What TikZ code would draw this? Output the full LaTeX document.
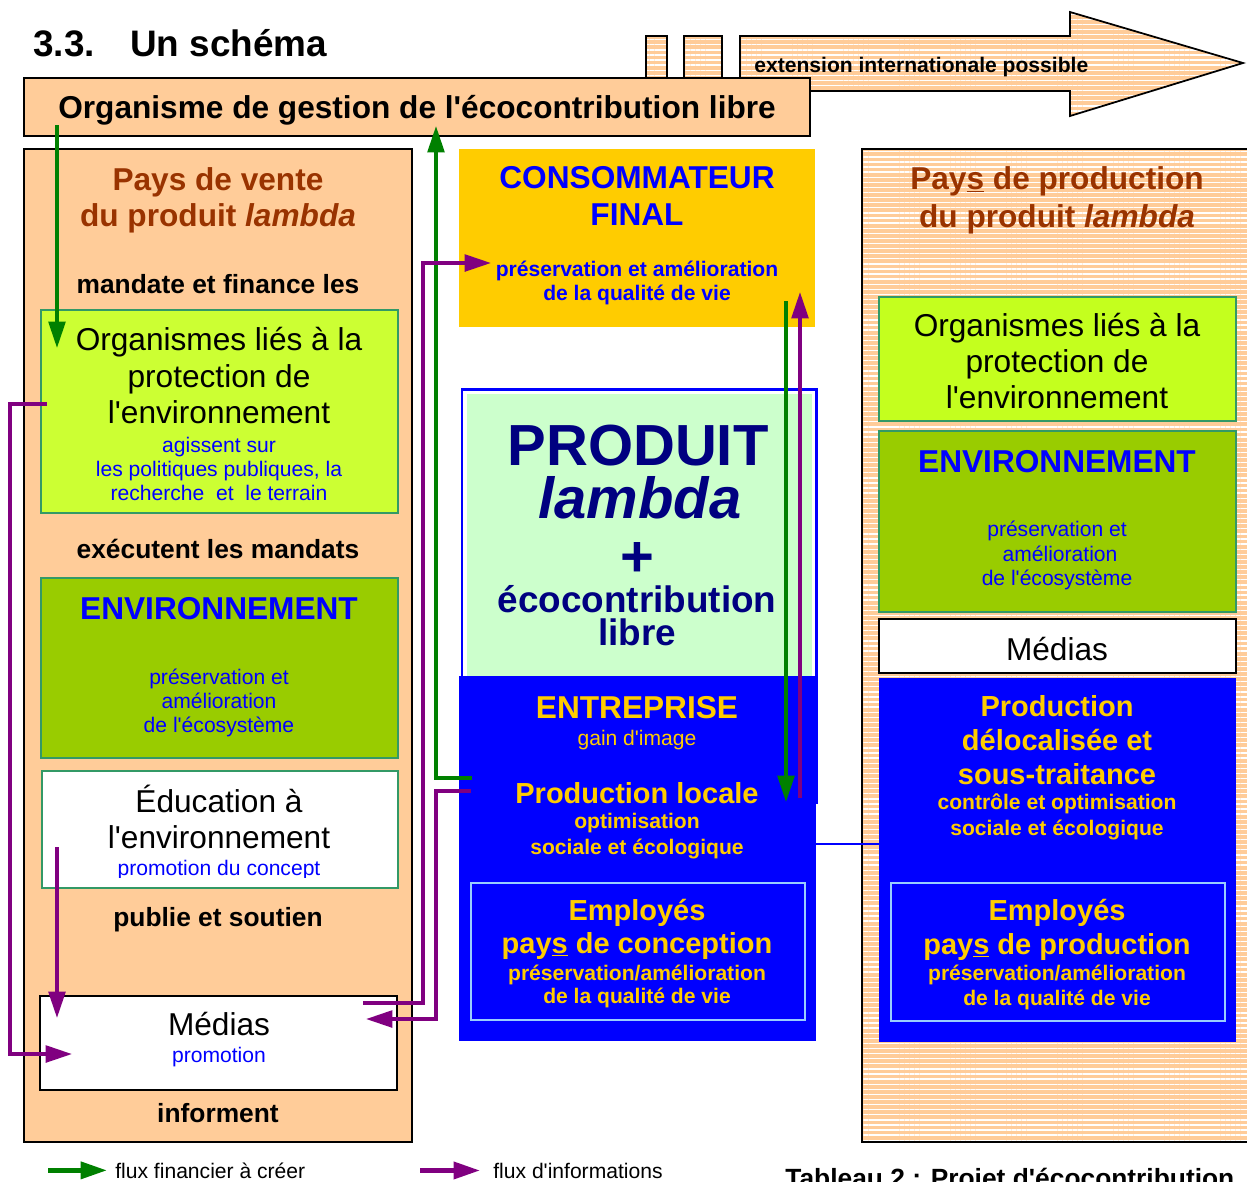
\documentclass[tikz,border=0pt]{standalone}
\usepackage{fontspec}
\setmainfont{Liberation Sans}[Ligatures=TeXOff]
\usetikzlibrary{arrows.meta,calc,fit,patterns.meta}

\definecolor{peach}{HTML}{FFCC99}
\definecolor{brun}{HTML}{993300}
\definecolor{limeA}{HTML}{CCFF33}
\definecolor{limeB}{HTML}{C4FF1E}
\definecolor{envgreen}{HTML}{99CC00}
\definecolor{edge}{HTML}{339966}
\definecolor{jaune}{HTML}{FFCC00}
\definecolor{menthe}{HTML}{CCFFCC}
\definecolor{marine}{HTML}{000080}
\definecolor{bleu}{HTML}{0000FF}
\definecolor{ciel}{HTML}{99CCFF}
\definecolor{vert}{HTML}{008000}
\definecolor{violet}{HTML}{800080}

\newdimen\px \px=0.02cm

\tikzset{
  txt/.style={anchor=base, inner sep=0pt},
  fT/.style={txt, anchor=base west, font=\fontsize{21}{25}\selectfont\bfseries},
  fA/.style={txt, font=\fontsize{18}{21}\selectfont},
  fAb/.style={txt, font=\fontsize{18}{21}\selectfont\bfseries},
  fB/.style={txt, font=\fontsize{16.5}{19}\selectfont\bfseries},
  fC/.style={txt, font=\fontsize{12}{14}\selectfont},
  fCb/.style={txt, font=\fontsize{12}{14}\selectfont\bfseries},
  fD/.style={txt, font=\fontsize{15}{18}\selectfont\bfseries},
  zone/.style={inner sep=0pt, outer sep=0pt},
  pale/.style={zone, draw=black, line width=1pt, fill=peach},
  striped/.style={zone, draw=black, line width=1pt, preaction={fill=peach},
    pattern={Lines[angle=0,distance=2.9pt,line width=0.75pt]}, pattern color=white},
  limebox/.style={zone, draw=edge, line width=1.1pt, fill=#1},
  envbox/.style={zone, draw=edge, line width=1.1pt, fill=envgreen},
  whitebox/.style={zone, draw=#1, line width=1.1pt, fill=white},
  bluebox/.style={zone, fill=bleu},
  empbox/.style={zone, draw=ciel, line width=1.6pt},
  money/.style={vert, line width=2pt, -{Triangle[length=15pt,width=9.5pt]}},
  info/.style={violet, line width=2pt, -{Triangle[length=15pt,width=9.5pt]}},
}

\begin{document}
\begin{tikzpicture}[x=0.02cm,y=-0.02cm]
\useasboundingbox (0,0) rectangle (1247,1181);
\clip (0,0) rectangle (1247,1181);

% titre
\node[fT] (num) at (33,56) {3.3.};
\node[fT] (titre) at (130,56) {Un schéma};

% fleche extension
\draw[striped] (646,36) rectangle (667,90);
\draw[striped] (684,36) rectangle (722,90);
\draw[striped] (740,36) -- (1070,36) -- (1070,12) -- (1243,63) -- (1070,116) -- (1070,91) -- (740,91) -- cycle;
\node[fCb, anchor=base west] (ext) at (754,72) {extension internationale possible};

% organisme
\node[pale, fit={(24,78) (810,136)}] (org) {};
\node[fAb] (orgt) at (417,118) {Organisme de gestion de l'écocontribution libre};

% pays de vente
\node[pale, fit={(24,149) (412,1142)}] (vente) {};
\node[fAb, brun] (pv1) at (218,190) {Pays de vente};
\node[fAb, brun] (pv2) at (218,226) {du produit \textit{lambda}};
\node[fD] (pv3) at (218,293) {mandate et finance les};

\node[limebox=limeA, fit={(41,310) (398,513)}] (limeL) {};
\node[fA] (ol1) at (219,350) {Organismes liés à la};
\node[fA] (ol2) at (219,387) {protection de};
\node[fA] (ol3) at (219,423) {l'environnement};
\node[fC, bleu] (ol4) at (219,452) {agissent sur};
\node[fC, bleu] (ol5) at (219,476) {les politiques publiques, la};
\node[fC, bleu] (ol6) at (219,500) {recherche\ \ et\ \ le terrain};

\node[fD] (pv4) at (218,558) {exécutent les mandats};

\node[envbox, fit={(41,578) (398,758)}] (envL) {};
\node[fAb, bleu] (el1) at (219,619) {ENVIRONNEMENT};
\node[fC, bleu] (el2) at (219,684) {préservation et};
\node[fC, bleu] (el3) at (219,708) {amélioration};
\node[fC, bleu] (el4) at (219,732) {de l'écosystème};

\node[whitebox=edge, fit={(42,771) (398,888)}] (eduL) {};
\node[fA] (ed1) at (219,812) {Éducation à};
\node[fA] (ed2) at (219,848) {l'environnement};
\begin{scope}
\clip (42,771) rectangle (398,877);
\node[fC, bleu] (ed3) at (219,875) {promotion du concept};
\end{scope}

\node[fD] (pv5) at (218,926) {publie et soutien};

\node[whitebox=black, fit={(40,996) (397,1090)}] (mediaL) {};
\node[fA] (ml1) at (219,1035) {Médias};
\node[fC, bleu] (ml2) at (219,1062) {promotion};

\node[fD] (pv6) at (218,1122) {informent};

% consommateur
\node[zone, fill=jaune, fit={(459,149) (815,327)}] (conso) {};
\node[fAb, bleu] (co1) at (637,188) {CONSOMMATEUR};
\node[fAb, bleu] (co2) at (637,225) {FINAL};
\node[fCb, bleu] (co3) at (637,276) {préservation et amélioration};
\node[fCb, bleu] (co4) at (637,300) {de la qualité de vie};

% produit
\node[zone, draw=bleu, line width=1.7pt, fill=white, fit={(462,389) (816,802)}] (prod) {};
\fill[menthe] (467,394) rectangle (812,676);
\node[txt, marine, font=\fontsize{33}{36}\selectfont\bfseries] (pr1) at (638,465) {PRODUIT};
\node[txt, marine, font=\fontsize{33}{36}\selectfont\bfseries\itshape] (pr2) at (640,518) {lambda};
\node[marine, inner sep=0pt, font=\fontsize{33}{36}\selectfont\bfseries] (pr3) at (637,559) {+};
\node[txt, marine, font=\fontsize{21}{24}\selectfont\bfseries] (pr4) at (637,612) {écocontribution};
\node[txt, marine, font=\fontsize{21}{24}\selectfont\bfseries] (pr5) at (637,645) {libre};

% entreprise
\node[bluebox, fit={(459,676) (816,1041)}] (ent) {};
\node[fAb, jaune] (en1) at (637,718) {ENTREPRISE};
\node[fC, jaune] (en2) at (637,745) {gain d'image};
\node[fB, jaune] (en3) at (637,803) {Production locale};
\node[fCb, jaune] (en4) at (637,828) {optimisation};
\node[fCb, jaune] (en5) at (637,854) {sociale et écologique};

\node[empbox, fit={(471,883) (805,1020)}] (empC) {};
\node[fB, jaune] (ec1) at (637,920) {Employés};
\node[fB, jaune] (ec2) at (637,953) {pay\underline{s} de conception};
\node[fCb, jaune] (ec3) at (637,980) {préservation/amélioration};
\node[fCb, jaune] (ec4) at (637,1003) {de la qualité de vie};

% pays de production
\node[striped, fit={(862,149) (1262,1142)}] (prodpays) {};
\node[fAb, brun] (pp1) at (1057,189) {Pay\underline{s} de production};
\node[fAb, brun] (pp2) at (1057,227) {du produit \textit{lambda}};

\node[limebox=limeB, fit={(879,297) (1236,421)}] (limeR) {};
\node[fA] (or1) at (1057,336) {Organismes liés à la};
\node[fA] (or2) at (1057,372) {protection de};
\node[fA] (or3) at (1057,408) {l'environnement};

\node[envbox, fit={(879,431) (1236,612)}] (envR) {};
\node[fAb, bleu] (er1) at (1057,472) {ENVIRONNEMENT};
\node[fC, bleu] (er2) at (1057,536) {préservation et};
\node[fC, bleu] (er3) at (1060,561) {amélioration};
\node[fC, bleu] (er4) at (1057,585) {de l'écosystème};

\node[whitebox=black, fit={(879,619) (1236,673)}] (mediaR) {};
\node[fA] (mr1) at (1057,660) {Médias};

\node[bluebox, fit={(879,678) (1236,1042)}] (prodR) {};
\node[fB, jaune] (dr1) at (1057,716) {Production};
\node[fB, jaune] (dr2) at (1057,750) {délocalisée et};
\node[fB, jaune] (dr3) at (1057,784) {sous-traitance};
\node[fCb, jaune] (dr4) at (1057,809) {contrôle et optimisation};
\node[fCb, jaune] (dr5) at (1057,835) {sociale et écologique};

\node[empbox, fit={(891,883) (1225,1021)}] (empR) {};
\node[fB, jaune] (erp1) at (1057,920) {Employés};
\node[fB, jaune] (erp2) at (1057,954) {pay\underline{s} de production};
\node[fCb, jaune] (erp3) at (1057,980) {préservation/amélioration};
\node[fCb, jaune] (erp4) at (1057,1005) {de la qualité de vie};

% flux financiers
\draw[money] ([yshift=11\px]org.south -| 57,0) -- ([yshift=-38\px]limeL.north -| 57,0);
\draw[money] ([xshift=13\px]ent.west |- 0,778) -| ([yshift=10\px]org.south -| 436,0);
\draw[money] ([yshift=26\px]conso.south -| 786,0) -- (prod.south -| 786,0);

% flux d'informations
\draw[info] ([xshift=6\px]limeL.west |- 0,404) -- ++(-37,0) |- ([xshift=32\px]mediaL.west |- 0,1054);
\draw[info] ([yshift=41\px]eduL.south -| 57,0) -- ([yshift=-22\px]mediaL.north -| 57,0);
\draw[info] ([xshift=-34\px]mediaL.east |- 0,1003) -- ++(60,0) |- ([xshift=32\px]conso.west |- 0,263);
\draw[info] ([xshift=12\px]ent.west |- 0,791) -- ++(-35,0) |- ([xshift=-31\px]mediaL.east |- 0,1019);
\draw[info] ([yshift=4\px]prod.south -| 800,0) -- ([yshift=35\px]conso.south -| 800,0);

% lien entreprise - production
\draw[bleu, line width=1.2pt] (ent.east |- 0,844) -- (prodR.west |- 0,844);

% legende
\node[fC, anchor=base west] (lgA) at (115,1178) {flux financier à créer};
\draw[money, line width=2.6pt] ([xshift=-67\px]lgA.west) -- ([xshift=-8\px]lgA.west);
\node[fC, anchor=base west] (lgB) at (493,1178) {flux d'informations};
\draw[info, line width=2.6pt] ([xshift=-73\px]lgB.west) -- ([xshift=-13\px]lgB.west);
\node[txt, anchor=base west, font=\fontsize{15}{18}\selectfont\bfseries] (cap) at (785,1187) {Tableau 2 : Projet d'écocontribution};
\end{tikzpicture}
\end{document}
